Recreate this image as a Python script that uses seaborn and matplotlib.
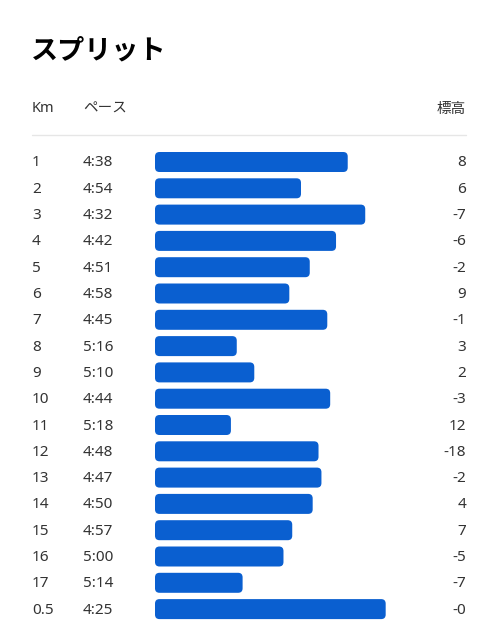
import numpy as np
import pandas as pd
import matplotlib
matplotlib.use('Agg')
import matplotlib.pyplot as plt
import matplotlib.transforms as mtransforms
from matplotlib.patches import FancyBboxPatch
import seaborn as sns

sns.set_theme(style='white')
plt.rcParams['font.family'] = ['Noto Sans', 'Noto Sans CJK JP', 'DejaVu Sans']

# データ
km_labels = ['1', '2', '3', '4', '5', '6', '7', '8', '9', '10',
             '11', '12', '13', '14', '15', '16', '17', '0.5']
pace = ['4:38', '4:54', '4:32', '4:42', '4:51', '4:58', '4:45', '5:16', '5:10', '4:44',
        '5:18', '4:48', '4:47', '4:50', '4:57', '5:00', '5:14', '4:25']
elevation = ['8', '6', '-7', '-6', '-2', '9', '-1', '3', '2', '-3',
             '12', '-18', '-2', '4', '7', '-5', '-7', '-0']

pace_sec = np.array([int(p.split(':')[0]) * 60 + int(p.split(':')[1]) for p in pace])
# バーの長さ: 速いほど長い (5:44 を基準)
df = pd.DataFrame({'km': km_labels, 'bar': 344 - pace_sec})

W, H = 479, 640
fig = plt.figure(figsize=(W / 100, H / 100), dpi=100)
fig.patch.set_facecolor('white')

row0, step = 162, 26.3
n = len(km_labels)
top_px = row0 - step / 2
bot_px = row0 + step * (n - 1) + step / 2
left_px, right_px = 155, 466
px_per_unit = 2.92
blue = '#0a5fd0'

ax = fig.add_axes([left_px / W, 1 - bot_px / H, (right_px - left_px) / W, (bot_px - top_px) / H])
sns.barplot(data=df, x='bar', y='km', orient='h', color=blue, width=20 / step,
            ax=ax, saturation=1)
ax.set_xlim(0, (right_px - left_px) / px_per_unit)
ax.set_ylim(n - 0.5, -0.5)
ax.axis('off')

# 角丸バー
y_per_px = 1 / step
x_per_px = 1 / px_per_unit
for p in list(ax.patches):
    x, y = p.get_x(), p.get_y()
    w, h = p.get_width(), p.get_height()
    p.remove()
    r = 4.5 * x_per_px
    fb = FancyBboxPatch((x, y), w, h,
                        boxstyle=f'round,pad=0,rounding_size={r}',
                        mutation_aspect=y_per_px / x_per_px,
                        facecolor=blue, edgecolor='none')
    ax.add_patch(fb)

trans = mtransforms.blended_transform_factory(fig.transFigure, ax.transData)
txt_col = '#333333'
dy = 1.0 / step  # 少し下へ
for i in range(n):
    ax.text(32 / W, i + dy, km_labels[i], transform=trans, ha='left', va='center',
            fontsize=11, color=txt_col)
    ax.text(83 / W, i + dy, pace[i], transform=trans, ha='left', va='center',
            fontsize=11, color=txt_col)
    ax.text(466 / W, i + dy, elevation[i], transform=trans, ha='right', va='center',
            fontsize=11, color=txt_col)

fig.text(31 / W, 1 - 50 / H, 'スプリット', ha='left', va='center',
         fontsize=19.5, fontweight='bold', color='black',
         family=['Noto Sans CJK JP', 'DejaVu Sans'])
fig.text(32 / W, 1 - 109 / H, 'Km', ha='left', va='center', fontsize=10.5, color=txt_col)
fig.text(83 / W, 1 - 109 / H, 'ペース', ha='left', va='center', fontsize=10.5, color=txt_col,
         family=['Noto Sans CJK JP', 'DejaVu Sans'])
fig.text(466 / W, 1 - 109 / H, '標高', ha='right', va='center', fontsize=10.5, color=txt_col,
         family=['Noto Sans CJK JP', 'DejaVu Sans'])
fig.add_artist(plt.Line2D([32 / W, 466 / W], [1 - 135 / H, 1 - 135 / H],
                          transform=fig.transFigure, color='#e6e6e6', lw=1))

fig.savefig('out.png', dpi=100)
